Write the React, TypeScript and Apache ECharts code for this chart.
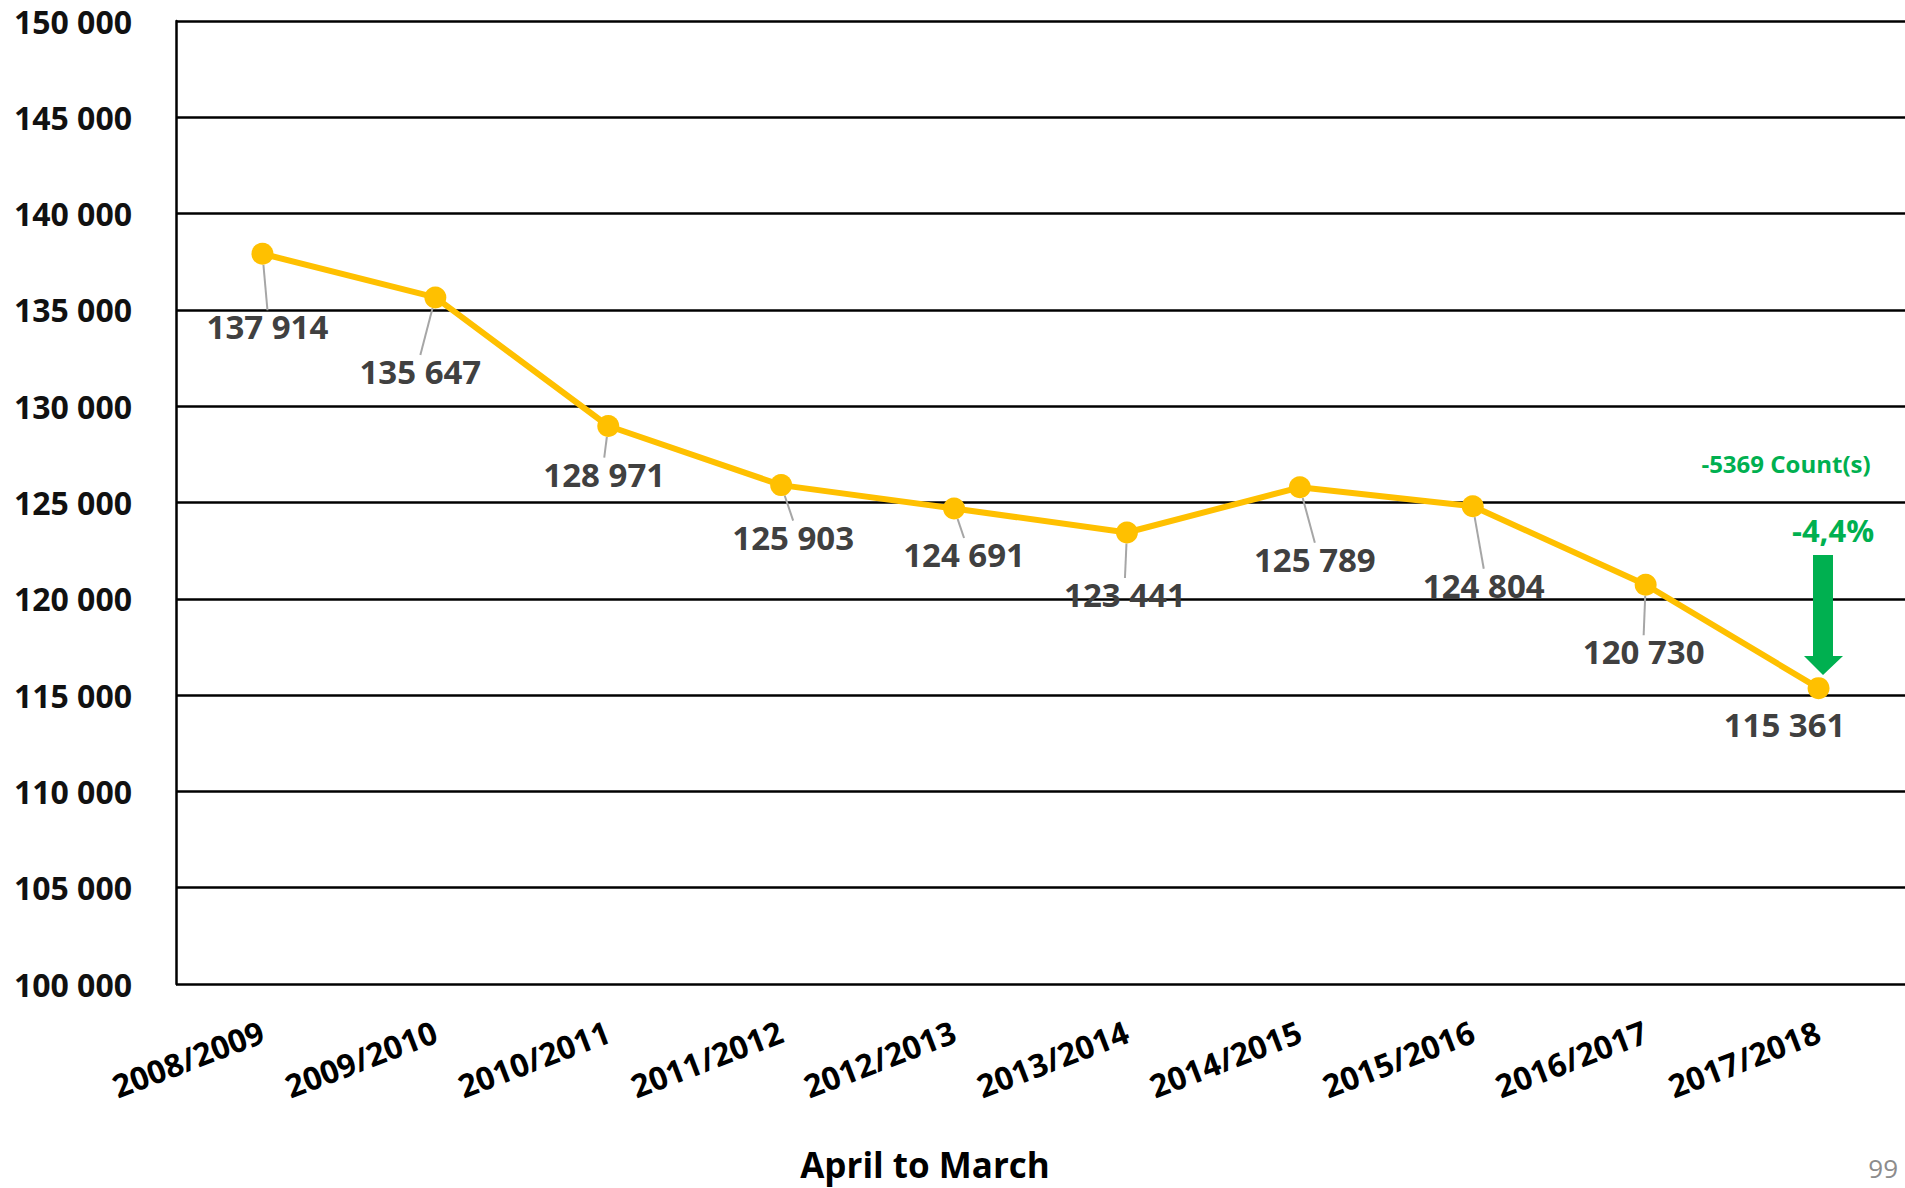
import React, { useEffect, useRef } from "react";
import * as echarts from "echarts";

const categories = [
  "2008/2009", "2009/2010", "2010/2011", "2011/2012", "2012/2013",
  "2013/2014", "2014/2015", "2015/2016", "2016/2017", "2017/2018",
];
const values = [137914, 135647, 128971, 125903, 124691, 123441, 125789, 124804, 120730, 115361];
const yMin = 100000;
const yMax = 150000;
const yStep = 5000;
const xAxisTitle = "April to March";
const pageNumber = "99";

// label placement (layout only)
const labelDx = [5, -15, -4, 12, 10, -2, 15, 11, -2, -34];
const labelDy = [73, 74, 48, 52, 46, 62, 72, 79, 67, 36];

const FONT = "'Open Sans', 'Liberation Sans', sans-serif";

function fmt(v: number): string {
  const s = String(Math.round(v));
  return s.replace(/\B(?=(\d{3})+(?!\d))/g, " ");
}

export default function App() {
  const ref = useRef<HTMLDivElement>(null);
  useEffect(() => {
    if (!ref.current) return;
    const chart = echarts.init(ref.current, null, { renderer: "svg" });
    const last = values[values.length - 1];
    const prev = values[values.length - 2];
    const diff = last - prev;
    const pct = ((diff / prev) * 100).toFixed(1).replace(".", ",");
    const green = "#00B050";
    chart.setOption({
      animation: false,
      backgroundColor: "#ffffff",
      grid: { left: 176, top: 21, right: 0, bottom: 204, containLabel: false },
      xAxis: {
        type: "category",
        data: categories,
        boundaryGap: true,
        axisLine: { show: false },
        axisTick: { show: false },
        axisLabel: {
          rotate: 21,
          margin: 46,
          fontFamily: FONT,
          fontWeight: "bold",
          fontSize: 32,
          color: "#000",
          interval: 0,
        },
      },
      yAxis: {
        type: "value",
        min: yMin,
        max: yMax,
        interval: yStep,
        axisLine: { show: true, lineStyle: { color: "#000", width: 2.5 } },
        axisTick: { show: false },
        splitLine: { show: true, lineStyle: { color: "#000", width: 2.5 } },
        axisLabel: {
          margin: 44,
          fontFamily: FONT,
          fontWeight: "bold",
          fontSize: 32,
          color: "#111",
          formatter: (v: number) => fmt(v),
        },
      },
      series: [
        {
          type: "line",
          data: values.map((v, i) => ({
            value: v,
            labelLine: { show: i !== values.length - 1 },
          })),
          symbol: "circle",
          symbolSize: 22,
          itemStyle: { color: "#FFC000" },
          lineStyle: { color: "#FFC000", width: 6 },
          label: {
            show: true,
            position: "inside",
            fontFamily: FONT,
            fontWeight: "bold",
            fontSize: 33,
            color: "#404040",
            formatter: (p: any) => fmt(p.value),
          },
          labelLine: {
            show: true,
            length2: 0,
            lineStyle: { color: "#A6A6A6", width: 2 },
          },
          labelLayout: (p: any) => ({
            dx: labelDx[p.dataIndex],
            dy: labelDy[p.dataIndex],
          }),
          z: 3,
        },
      ],
      graphic: [
        {
          type: "text",
          x: 1786,
          y: 463,
          style: {
            text: `${diff} Count(s)`,
            align: "center",
            verticalAlign: "middle",
            fontFamily: FONT,
            fontWeight: "bold",
            fontSize: 24,
            fill: green,
          },
        },
        {
          type: "text",
          x: 1833,
          y: 530,
          style: {
            text: `${pct}%`,
            align: "center",
            verticalAlign: "middle",
            fontFamily: FONT,
            fontWeight: "bold",
            fontSize: 31,
            fill: green,
          },
        },
        {
          type: "polygon",
          shape: {
            points: [
              [1813, 555], [1833, 555], [1833, 656], [1843, 656],
              [1823, 675], [1804, 656], [1813, 656],
            ],
          },
          style: { fill: green },
          z: 10,
        },
        {
          type: "text",
          x: 925,
          y: 1164,
          style: {
            text: xAxisTitle,
            align: "center",
            verticalAlign: "middle",
            fontFamily: FONT,
            fontWeight: "bold",
            fontSize: 35,
            fill: "#000",
          },
        },
        {
          type: "text",
          x: 1898,
          y: 1168,
          style: {
            text: pageNumber,
            align: "right",
            verticalAlign: "middle",
            fontFamily: FONT,
            fontSize: 26,
            fill: "#8c8c8c",
          },
        },
      ],
    });
    return () => chart.dispose();
  }, []);
  return (
    <div
      ref={ref}
      style={{ position: "absolute", left: 0, top: 0, width: 1905, height: 1188 }}
    />
  );
}
